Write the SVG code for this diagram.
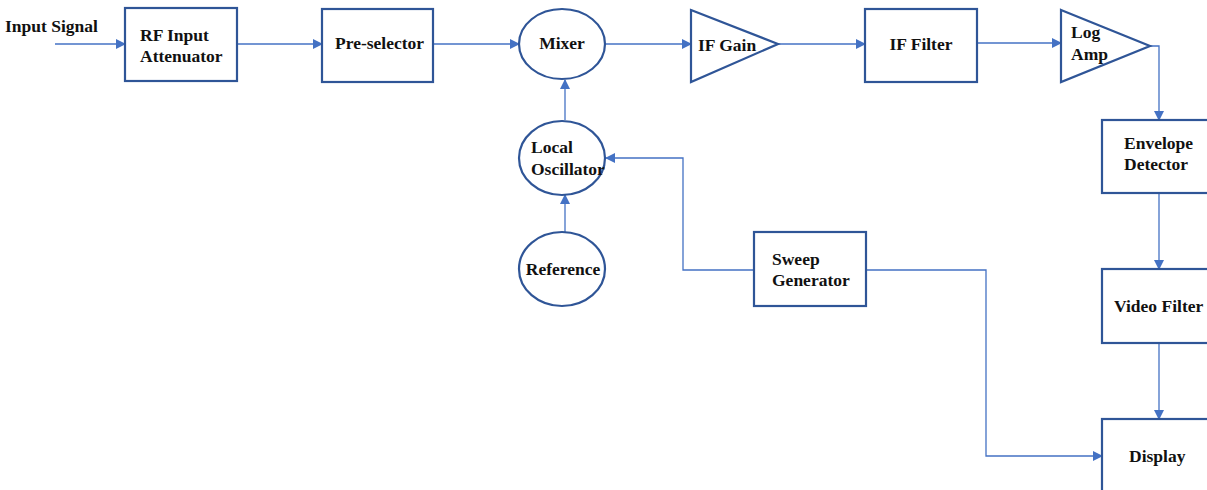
<svg xmlns="http://www.w3.org/2000/svg" width="1207" height="490" viewBox="0 0 1207 490">
<style>
.n{fill:#fff;stroke:#2F5597;stroke-width:2.2}
.c{fill:none;stroke:#4472C4;stroke-width:1.3}
text{font-family:"Liberation Serif","Times New Roman",serif;font-weight:bold;font-size:17.5px;fill:#111}
.m{text-anchor:middle}
</style>
<defs>
<marker id="a" markerWidth="10" markerHeight="10" refX="9" refY="5" orient="auto" markerUnits="userSpaceOnUse">
<path d="M0,0 L10,5 L0,10 z" fill="#4472C4"/>
</marker>
</defs>
<rect width="1207" height="490" fill="#fff"/>
<g id="connectors">
<path class="c" marker-end="url(#a)" d="M55,44 H125"/>
<path class="c" marker-end="url(#a)" d="M237,44 H322"/>
<path class="c" marker-end="url(#a)" d="M433,44 H519"/>
<path class="c" marker-end="url(#a)" d="M605,44 H691"/>
<path class="c" marker-end="url(#a)" d="M778,44 H865"/>
<path class="c" marker-end="url(#a)" d="M977,43 H1061"/>
<path class="c" marker-end="url(#a)" d="M1150,46 H1159 V120"/>
<path class="c" marker-end="url(#a)" d="M1159,193 V269"/>
<path class="c" marker-end="url(#a)" d="M1159,343 V419"/>
<path class="c" marker-end="url(#a)" d="M565,232 V195"/>
<path class="c" marker-end="url(#a)" d="M565,120 V80"/>
<path class="c" marker-end="url(#a)" d="M754,270 H683 V158 H606"/>
<path class="c" marker-end="url(#a)" d="M866,270 H986 V456 H1102"/>
</g>
<g id="input-signal"><text x="5" y="32">Input Signal</text></g>
<g id="rf-input-attenuator"><rect class="n" x="125" y="8" width="112" height="73"/><text x="140" y="41">RF Input</text><text x="140" y="62">Attenuator</text></g>
<g id="pre-selector"><rect class="n" x="322" y="9" width="111" height="73"/><text x="335" y="49">Pre-selector</text></g>
<g id="mixer"><ellipse class="n" cx="562" cy="44" rx="43" ry="35"/><text class="m" x="562" y="49">Mixer</text></g>
<g id="if-gain"><path class="n" d="M691,10 L778,44 L691,82 z"/><text x="698" y="51">IF Gain</text></g>
<g id="if-filter"><rect class="n" x="865" y="9" width="112" height="73"/><text class="m" x="921" y="50">IF Filter</text></g>
<g id="log-amp"><path class="n" d="M1061,10 L1150,46 L1061,82 z"/><text x="1071" y="38">Log</text><text x="1071" y="60">Amp</text></g>
<g id="envelope-detector"><rect class="n" x="1102" y="120" width="112" height="73"/><text x="1124" y="149">Envelope</text><text x="1124" y="170">Detector</text></g>
<g id="video-filter"><rect class="n" x="1102" y="269" width="112" height="74"/><text x="1114" y="312">Video Filter</text></g>
<g id="display"><rect class="n" x="1102" y="419" width="112" height="80"/><text x="1129" y="462">Display</text></g>
<g id="local-oscillator"><ellipse class="n" cx="562" cy="158" rx="43" ry="37"/><text x="531" y="153">Local</text><text x="531" y="175">Oscillator</text></g>
<g id="reference"><ellipse class="n" cx="562" cy="269" rx="43" ry="37"/><text class="m" x="563" y="275">Reference</text></g>
<g id="sweep-generator"><rect class="n" x="754" y="232" width="112" height="74"/><text x="772" y="265">Sweep</text><text x="772" y="286">Generator</text></g>
</svg>
